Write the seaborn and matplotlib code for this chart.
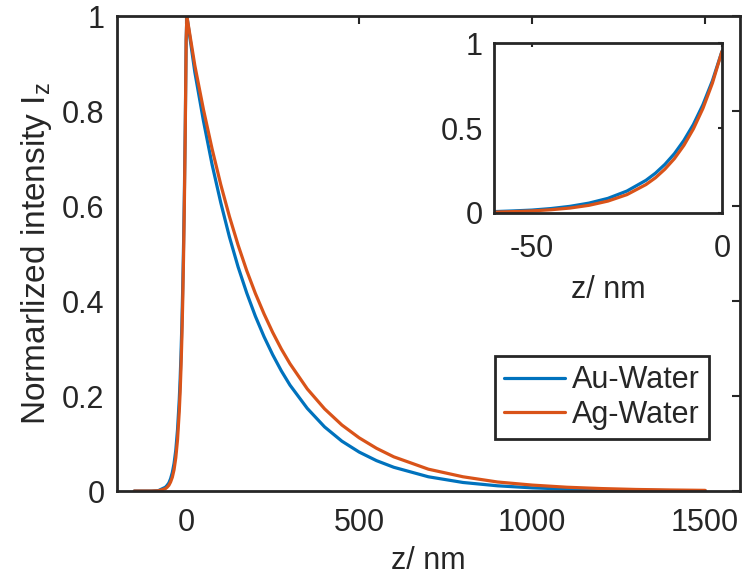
import numpy as np
import pandas as pd
import matplotlib
matplotlib.use("Agg")
import matplotlib.pyplot as plt
import seaborn as sns

# valores (z em nm, intensidade normalizada)
z_au = [-150, -100, -80, -60, -55, -50, -45, -40, -35, -30, -25, -20, -17.5, -15, -12.5,
        -10, -7.5, -5, -2.5, 0, 2, 25, 50, 75, 100, 125, 150, 175, 200, 225, 250, 275,
        300, 350, 400, 450, 500, 550, 600, 700, 800, 900, 1000, 1100, 1200, 1300, 1400, 1500]
i_au = [0.0, 0.0, 0.001, 0.008, 0.012, 0.017, 0.026, 0.039, 0.058, 0.086, 0.129, 0.192, 0.234,
        0.286, 0.349, 0.427, 0.521, 0.637, 0.778, 0.95, 1.0, 0.882, 0.779, 0.687, 0.607, 0.535,
        0.472, 0.417, 0.368, 0.325, 0.287, 0.253, 0.223, 0.174, 0.135, 0.105, 0.082, 0.064,
        0.050, 0.030, 0.018, 0.011, 0.0067, 0.0041, 0.0025, 0.0015, 0.0009, 0.0006]

z_ag = z_au
i_ag = [0.0, 0.0, 0.0005, 0.005, 0.008, 0.012, 0.019, 0.029, 0.045, 0.070, 0.108, 0.167, 0.207,
        0.258, 0.320, 0.398, 0.495, 0.615, 0.764, 0.95, 1.0, 0.896, 0.803, 0.720, 0.645, 0.578,
        0.518, 0.464, 0.416, 0.373, 0.334, 0.299, 0.268, 0.215, 0.173, 0.139, 0.112, 0.090,
        0.072, 0.046, 0.030, 0.019, 0.0125, 0.0080, 0.0052, 0.0033, 0.0022, 0.0014]

nomes = ["Au-Water", "Ag-Water"]
cores = ["#0072BD", "#D95319"]

xticks_main = [0, 500, 1000, 1500]
yticks_main = [0, 0.2, 0.4, 0.6, 0.8, 1.0]
ylabels_main = ["0", "0.2", "0.4", "0.6", "0.8", "1"]
xticks_ins = [-50, 0]
yticks_ins = [0, 0.5, 1.0]
ylabels_ins = ["0", "0.5", "1"]

df = pd.concat([
    pd.DataFrame({"z": z_au, "I": i_au, "amostra": nomes[0]}),
    pd.DataFrame({"z": z_ag, "I": i_ag, "amostra": nomes[1]}),
])

sns.set_style("white")
plt.rcParams["font.family"] = ["Liberation Sans", "DejaVu Sans"]
plt.rcParams["axes.unicode_minus"] = False
cinza = "#262626"
fs = 22

fig = plt.figure(figsize=(7.45, 5.8), dpi=100)
ax = fig.add_axes([0.157, 0.1534, 0.836, 0.819])

sns.lineplot(data=df, x="z", y="I", hue="amostra", palette=cores, estimator=None,
             linewidth=2.3, ax=ax)
ax.set_xlim(-200, 1600)
ax.set_ylim(0, 1)
ax.set_xticks(xticks_main)
ax.set_yticks(yticks_main)
ax.set_yticklabels(ylabels_main)
ax.set_xlabel("z/ nm", fontsize=fs, color=cinza, labelpad=6)
ax.set_ylabel(r"Normarlized intensity I$_\mathregular{z}$", fontsize=24, color=cinza, labelpad=6)
ax.tick_params(axis="x", direction="in", top=True, length=6, width=1.5, pad=12,
               labelsize=fs, colors=cinza)
ax.tick_params(axis="y", direction="in", right=True, length=6, width=1.5, pad=9,
               labelsize=fs, colors=cinza)
for s in ax.spines.values():
    s.set_color(cinza)
    s.set_linewidth(2)

leg = ax.legend(loc="lower right", bbox_to_anchor=(0.950, 0.1095), borderaxespad=0,
                fontsize=fs, frameon=True, fancybox=False, handlelength=2.0,
                handletextpad=0.2, borderpad=0.3, labelspacing=0.15)
leg.get_frame().set_edgecolor(cinza)
leg.get_frame().set_linewidth(2)
leg.get_frame().set_alpha(1)
for h in leg.get_lines():
    h.set_linewidth(2.3)

# inset: zoom na regiao negativa
axi = fig.add_axes([0.663, 0.6328, 0.306, 0.293])
sns.lineplot(data=df, x="z", y="I", hue="amostra", palette=cores, estimator=None,
             linewidth=2.3, ax=axi, legend=False)
axi.set_xlim(-60, 0)
axi.set_ylim(0, 1)
axi.set_xticks(xticks_ins)
axi.set_yticks(yticks_ins)
axi.set_yticklabels(ylabels_ins)
axi.set_xlabel("z/ nm", fontsize=fs, color=cinza, labelpad=8)
axi.set_ylabel("")
axi.tick_params(axis="x", direction="in", top=True, length=3, width=1.5, pad=15,
                labelsize=fs, colors=cinza)
axi.tick_params(axis="y", direction="in", right=True, length=3, width=1.5, pad=8,
                labelsize=fs, colors=cinza)
for s in axi.spines.values():
    s.set_color(cinza)
    s.set_linewidth(2)

fig.savefig("out.png", dpi=100)
